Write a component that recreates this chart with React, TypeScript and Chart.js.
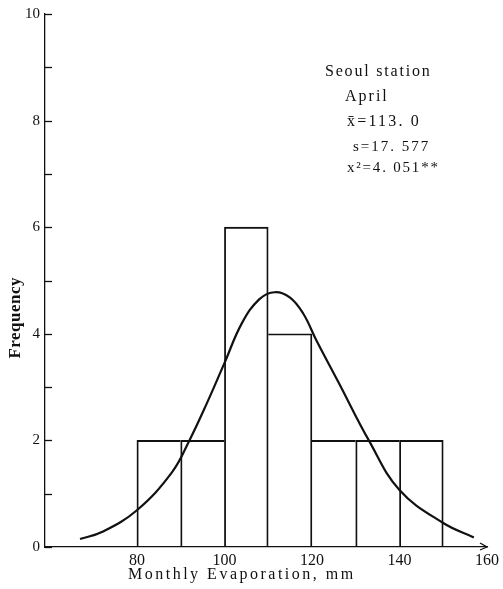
import React, { useEffect, useRef } from "react";
import { Chart, registerables } from "chart.js";

Chart.register(...registerables);

// Histogram classes (bin centres, mm) and frequencies
const BIN_CENTERS = [85, 95, 105, 115, 125, 135, 145];
const FREQUENCIES = [2, 2, 6, 4, 2, 2, 2];

// Fitted normal curve
const CURVE_X = [67, 72, 80, 88, 92, 96, 100, 104, 108, 111.5, 115, 118, 121, 126, 133, 140, 150, 157];
const CURVE_Y = [0.15, 0.28, 0.69, 1.4, 2.0, 2.7, 3.45, 4.2, 4.65, 4.78, 4.68, 4.38, 3.88, 3.1, 2.0, 1.07, 0.45, 0.18];

// Axis ticks
const X_TICKS = [80, 100, 120, 140, 160];
const Y_TICKS = [0, 2, 4, 6, 8, 10];
const Y_MINOR = [0, 1, 2, 3, 4, 5, 6, 7, 8, 9, 10];

// Annotation text
const NOTE_LINES = ["Seoul station", "April", "x\u0304=113. 0", "s=17. 577", "x\u00b2=4. 051**"];
const X_TITLE = "Monthly Evaporation, mm";
const Y_TITLE = "Frequency";

const INK = "#111";
const SERIF = "'Liberation Serif', 'Times New Roman', serif";

const extrasPlugin = {
  id: "extras",
  afterDraw(chart: any) {
    const { ctx, chartArea, scales } = chart;
    const y = scales.y;
    const x = scales.x;
    ctx.save();
    ctx.strokeStyle = INK;
    ctx.fillStyle = INK;
    ctx.lineWidth = 1.3;
    // inward ticks on y axis
    Y_MINOR.forEach((v) => {
      const py = Math.round(y.getPixelForValue(v)) + 0.5;
      ctx.beginPath();
      ctx.moveTo(chartArea.left, py);
      ctx.lineTo(chartArea.left + 7, py);
      ctx.stroke();
    });
    // arrow at x axis end
    const ax = x.getPixelForValue(160);
    const ay = chartArea.bottom;
    ctx.beginPath();
    ctx.moveTo(ax - 7, ay - 4);
    ctx.lineTo(ax, ay);
    ctx.lineTo(ax - 7, ay + 3);
    ctx.stroke();

    // y title
    ctx.save();
    ctx.font = `bold 17px ${SERIF}`;
    (ctx as any).letterSpacing = "0.5px";
    ctx.textAlign = "center";
    ctx.textBaseline = "middle";
    ctx.translate(16, y.getPixelForValue(4.3));
    ctx.rotate(-Math.PI / 2);
    ctx.fillText(Y_TITLE, 0, 0);
    ctx.restore();

    // x title
    ctx.font = `16px ${SERIF}`;
    (ctx as any).letterSpacing = "2.5px";
    ctx.textAlign = "left";
    ctx.textBaseline = "middle";
    ctx.fillText(X_TITLE, 128, 575);

    // annotation
    const lefts = [325, 345, 347, 353, 347];
    const ys = [72, 97, 122, 147, 168];
    const sizes = [16, 16, 16, 15, 15];
    const spacing = [1.8, 2, 2.2, 2, 1.8];
    NOTE_LINES.forEach((t, i) => {
      ctx.font = `${sizes[i]}px ${SERIF}`;
      (ctx as any).letterSpacing = `${spacing[i]}px`;
      ctx.fillText(t, lefts[i], ys[i]);
    });
    ctx.restore();
  },
};

export default function App() {
  const ref = useRef<HTMLCanvasElement | null>(null);

  useEffect(() => {
    if (!ref.current) return;
    const chart = new Chart(ref.current, {
      type: "bar",
      data: {
        datasets: [
          {
            type: "bar",
            data: BIN_CENTERS.map((c, i) => ({ x: c, y: FREQUENCIES[i] })),
            backgroundColor: "rgba(0,0,0,0)",
            borderColor: INK,
            borderWidth: (c: any) => {
              const i = c.dataIndex;
              const own = FREQUENCIES[i];
              const prev = FREQUENCIES[i - 1];
              const next = FREQUENCIES[i + 1];
              return {
                left: prev === undefined || prev <= own ? 1.2 : 0,
                top: 1.2,
                bottom: 0,
                right: next === undefined || next < own ? 1.2 : 0,
              };
            },
            borderSkipped: false,
            barPercentage: 1,
            categoryPercentage: 1,
            order: 2,
          } as any,
          {
            type: "line",
            data: CURVE_X.map((v, i) => ({ x: v, y: CURVE_Y[i] })),
            borderColor: INK,
            borderWidth: 2.2,
            pointRadius: 0,
            tension: 0.4,
            fill: false,
            order: 1,
          } as any,
        ],
      },
      options: {
        responsive: false,
        animation: false,
        layout: { padding: { left: 0, top: 14, right: 14, bottom: 0 } },
        plugins: { legend: { display: false }, tooltip: { enabled: false } },
        scales: {
          x: {
            type: "linear",
            offset: false,
            min: 59,
            max: 160,
            afterBuildTicks: (s: any) => {
              s.ticks = X_TICKS.map((v) => ({ value: v }));
            },
            afterFit: (s: any) => {
              s.height = 42;
            },
            grid: { display: true, drawOnChartArea: false, drawTicks: false, offset: false },
            border: { display: true, color: INK, width: 1.3 },
            ticks: { color: INK, font: { family: SERIF, size: 16 }, padding: 4, maxRotation: 0 },
          },
          y: {
            type: "linear",
            min: 0,
            max: 10,
            afterBuildTicks: (s: any) => {
              s.ticks = Y_TICKS.map((v) => ({ value: v }));
            },
            afterFit: (s: any) => {
              s.width = 45;
            },
            grid: { display: true, drawOnChartArea: false, drawTicks: false },
            border: { display: true, color: INK, width: 1.3 },
            ticks: { color: INK, font: { family: SERIF, size: 15 }, padding: 5 },
          },
        },
      } as any,
      plugins: [extrasPlugin],
    });
    return () => chart.destroy();
  }, []);

  return (
    <canvas
      ref={ref}
      width={503}
      height={589}
      style={{ position: "absolute", left: 0, top: 0, width: 503, height: 589, background: "#fff" }}
    />
  );
}
